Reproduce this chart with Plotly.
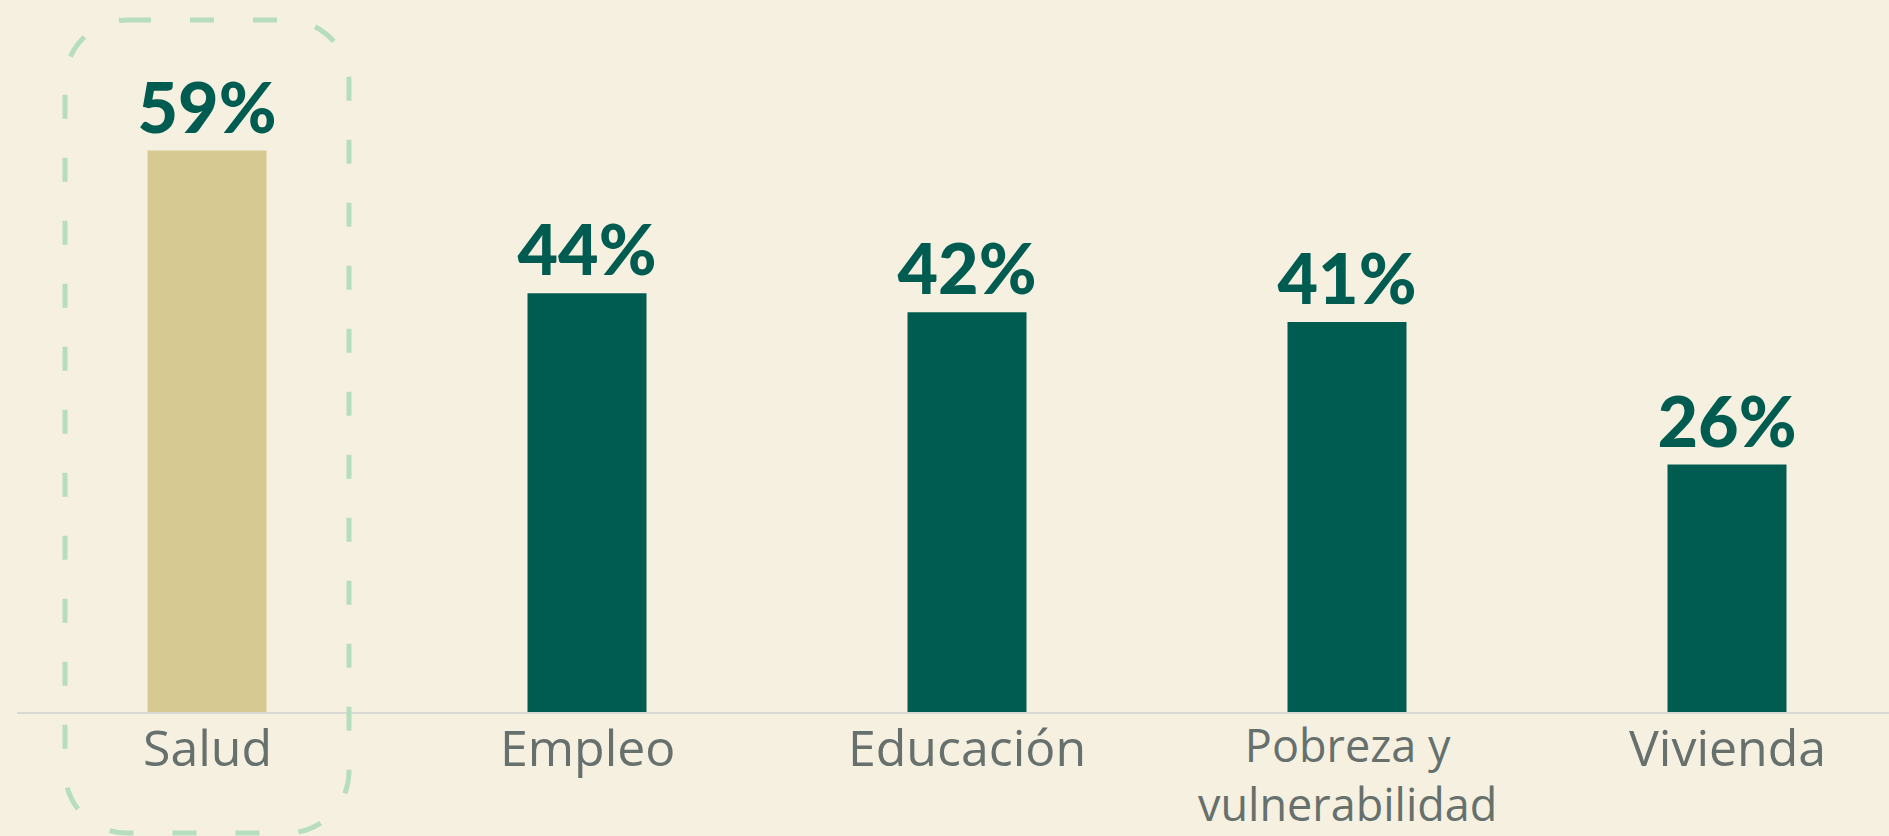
import plotly.graph_objects as go

categories = ["Salud", "Empleo", "Educación", "Pobreza y<br>vulnerabilidad", "Vivienda"]
values = [59, 44, 42, 41, 26]
value_labels = ["59%", "44%", "42%", "41%", "26%"]
bar_colors = ["#D6CA92", "#005C50", "#005C50", "#005C50", "#005C50"]

W, H = 1889, 836
ML, MR, MT, MB = 17, 0, 0, 124
PW, PH = W - ML - MR, H - MT - MB
STEP = 380  # px per category

BG = "#F6F0E1"
GREEN = "#005C50"
GRAY = "#66706D"

fig = go.Figure()
fig.add_trace(go.Bar(
    x=list(range(len(categories))),
    y=values,
    marker=dict(color=bar_colors, line=dict(width=0)),
    text=value_labels,
    textposition="outside",
    textfont=dict(family="Lato", size=70, color=GREEN, weight=900),
    constraintext="none",
    cliponaxis=False,
    hoverinfo="skip",
))

# category labels as annotations below the axis
annotations = []
for i, cat in enumerate(categories):
    two_lines = "<br>" in cat
    annotations.append(dict(
        x=i, xref="x", y=0, yref="paper", yanchor="top", xanchor="center",
        yshift=0 if two_lines else 1, text=cat, showarrow=False, align="center",
        font=dict(family="Open Sans", size=45 if two_lines else 50,
                  color=GRAY, weight=400),
    ))


def p(x, y):
    return f"{(x - ML) / PW:.5f},{(PH + MT - y) / PH:.5f}"


# dashed rounded rectangle highlighting the first category
L, R, T, B, r = 65, 349, 20, 833, 62
k = 0.5523 * r
path = (
    f"M {p(L + r, T)} L {p(R - r, T)} "
    f"C {p(R - r + k, T)} {p(R, T + r - k)} {p(R, T + r)} "
    f"L {p(R, B - r)} "
    f"C {p(R, B - r + k)} {p(R - r + k, B)} {p(R - r, B)} "
    f"L {p(L + r, B)} "
    f"C {p(L + r - k, B)} {p(L, B - r + k)} {p(L, B - r)} "
    f"L {p(L, T + r)} "
    f"C {p(L, T + r - k)} {p(L + r - k, T)} {p(L + r, T)} Z"
)

fig.update_layout(
    width=W, height=H,
    margin=dict(l=ML, r=MR, t=MT, b=MB, pad=0),
    paper_bgcolor=BG, plot_bgcolor=BG,
    bargap=1 - 119 / STEP,
    showlegend=False,
    annotations=annotations,
    shapes=[dict(type="path", xref="paper", yref="paper", path=path,
                 line=dict(color="#B6DDBD", width=5, dash="24px,39px"),
                 fillcolor="rgba(0,0,0,0)", layer="above")],
    xaxis=dict(range=[-0.5, -0.5 + PW / STEP], showgrid=False, zeroline=False,
               showticklabels=False, ticks="", showline=True,
               linecolor="#DAD9D3", linewidth=2, fixedrange=True),
    yaxis=dict(range=[0, PH / 9.515], visible=False, fixedrange=True),
)

fig.write_html("out.html", config={"displayModeBar": False},
               post_script="document.body.style.margin='0';document.body.style.overflow='hidden';")
